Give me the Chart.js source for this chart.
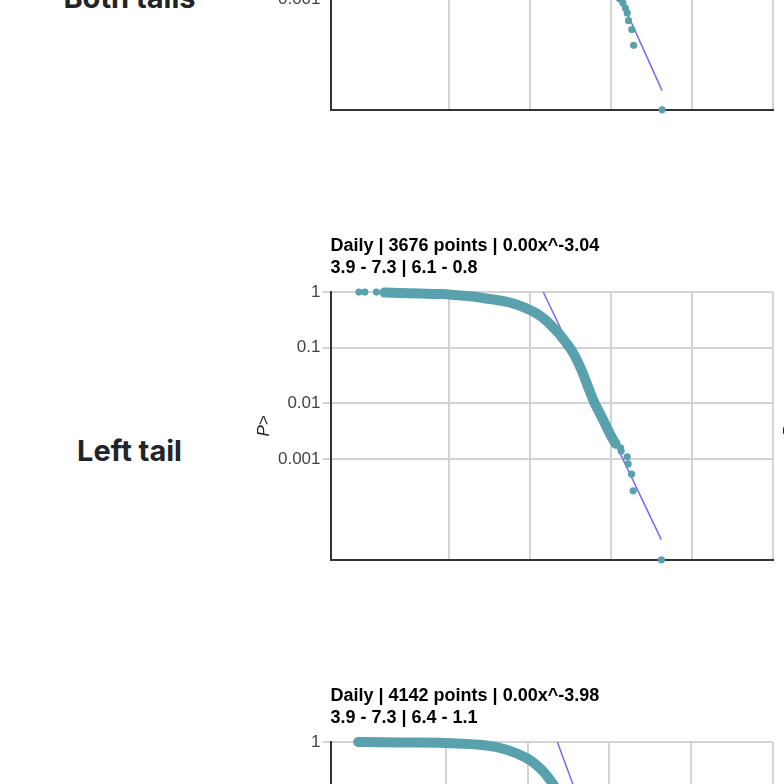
<!DOCTYPE html>
<html>
<head>
<meta charset="utf-8">
<title>Tail distributions</title>
<script src="https://cdn.jsdelivr.net/npm/chart.js@4.4.1/dist/chart.umd.min.js"></script>
<style>
    html, body { margin: 0; padding: 0; background: #fff; }
    body { width: 784px; height: 784px; overflow: hidden; }
    #page { position: relative; top: -225px; }
    .tail-row { position: relative; height: 450px; }
    .tail-label {
        position: absolute; left: 0; top: 0; width: 259px; height: 450px;
        display: flex; align-items: center; justify-content: center;
        font-family: Inter, "Noto Sans", sans-serif; font-weight: 700; font-size: 29px;
        color: #212529;
    }
    #both-label { top: -3px; }
    .tail-row canvas { position: absolute; top: 5px; }
    .tail-row canvas.main { left: 240px; }
    .tail-row canvas.side { left: 766px; }
</style>
</head>
<body>
<div id="page">
    <div class="tail-row">
        <div class="tail-label" id="both-label">Both tails</div>
        <canvas class="main" id="both-chart" width="544" height="342"></canvas>
        <canvas class="side" id="both-chart-2" width="544" height="342"></canvas>
    </div>
    <div class="tail-row">
        <div class="tail-label">Left tail</div>
        <canvas class="main" id="left-chart" width="544" height="342"></canvas>
        <canvas class="side" id="left-chart-2" width="544" height="342"></canvas>
    </div>
    <div class="tail-row">
        <div class="tail-label">Right tail</div>
        <canvas class="main" id="right-chart" width="544" height="342"></canvas>
        <canvas class="side" id="right-chart-2" width="544" height="342"></canvas>
    </div>
</div>

<script>
// --- axes (shared) ---
const yTicks = [1, 0.1, 0.01, 0.001];
const yTickLabels = ['1', '0.1', '0.01', '0.001'];
const xGrid = [0.001, 0.01, 0.1, 1, 10];
const xMax = 10;

// --- Both tails (only its lower end is on screen) ---
const bothXMin = 0.0000338;
const bothYMin = 0.0000076;
const bothBandX = [0.1, 0.116, 0.131];
const bothBandP = [0.0021, 0.0015, 0.00105];
const bothDotX = [0.1406, 0.151, 0.159, 0.165, 0.1815, 0.191, 0.43];
const bothDotP = [0.00084, 0.00067, 0.00054, 0.000385, 0.00026, 0.00013, 0.0000076];
const bothFitX = [0.0175, 0.43];
const bothFitP = [1, 0.0000177];

// --- Left tail ---
const leftTitle = ['Daily | 3676 points | 0.00x^-3.04', '3.9 - 7.3 | 6.1 - 0.8'];
const leftXMin = 0.0000338;
const leftYMin = 0.0000156;
const leftDotX = [0.000076, 0.00009, 0.000125, 0.1318, 0.1339, 0.1589, 0.1634, 0.180, 0.1884, 0.4217];
const leftDotP = [1, 0.9997, 0.9995, 0.0016, 0.0014, 0.0011, 0.00082, 0.00054, 0.00027, 0.0000156];
const leftBandX = [0.000157, 0.000243, 0.00043, 0.000757, 0.00122, 0.00195, 0.00313, 0.00504, 0.00805,
    0.01023, 0.01294, 0.0158, 0.01888, 0.0224, 0.0263, 0.0334, 0.0423, 0.0511, 0.0617, 0.0746, 0.0861, 0.0991, 0.1143];
const leftBandP = [0.98, 0.96, 0.94, 0.92, 0.88, 0.83, 0.75, 0.67, 0.545,
    0.466, 0.386, 0.308, 0.238, 0.184, 0.137, 0.0848, 0.0427, 0.0214, 0.0107, 0.0062, 0.0041, 0.0027, 0.0019];
const leftFitX = [0.01452, 0.42];
const leftFitP = [1, 0.000036];

// --- Right tail (only its top is on screen) ---
const rightTitle = ['Daily | 4142 points | 0.00x^-3.98', '3.9 - 7.3 | 6.4 - 1.1'];
const rightXMin = 0.000038;
const rightYMin = 0.0000156;
const rightBandX = [0.000083, 0.00027, 0.00099, 0.00313, 0.0055, 0.0097, 0.0141, 0.0187, 0.0234];
const rightBandP = [1, 0.98, 0.96, 0.87, 0.73, 0.516, 0.341, 0.21, 0.128];
const rightFitX = [0.023, 0.2];
const rightFitP = [1, 0.00018];

const TEAL = '#58a1ad';
const FIT_COLOR = '#7b68ee';
const GRID = '#d3d3d3';
const AXIS = '#333333';
const FONT = '"Liberation Sans", Arial, sans-serif';

const pts = (xs, ys) => xs.map((x, i) => ({ x: x, y: ys[i] }));

function tailDatasets(dotX, dotP, bandX, bandP, fitX, fitP) {
    return [
        { data: pts(dotX, dotP), backgroundColor: TEAL, pointRadius: 3.6, pointBorderWidth: 0, showLine: false, order: 0, clip: false },
        { data: pts(bandX, bandP), showLine: true, borderColor: TEAL, borderWidth: 10, borderCapStyle: 'round', borderJoinStyle: 'round',
          pointRadius: 0, tension: 0.4, order: 1, clip: false },
        { data: pts(fitX, fitP), showLine: true, borderColor: FIT_COLOR, borderWidth: 1.5, pointRadius: 0, order: 2 }
    ];
}

function buildTailChart(canvasId, title, xMin, yMin, datasets) {
    const canvas = document.getElementById(canvasId);
    if (!canvas) { console.warn('canvas not found:', canvasId); return null; }
    try {
        return new Chart(canvas.getContext('2d'), {
            type: 'scatter',
            data: { datasets: datasets },
            options: {
                responsive: false,
                animation: false,
                events: [],
                layout: { padding: { left: 10.5, right: 11.5, top: 0, bottom: 0 } },
                plugins: {
                    legend: { display: false },
                    tooltip: { enabled: false },
                    title: {
                        display: true, text: title, align: 'start', fullSize: false, color: '#000',
                        font: { family: FONT, size: 18, weight: 'bold', lineHeight: 1.24 },
                        padding: { top: 4.85, bottom: 12.55 }
                    }
                },
                scales: {
                    x: {
                        type: 'logarithmic', min: xMin, max: xMax,
                        afterBuildTicks: s => { s.ticks = [xMin].concat(xGrid).map(v => ({ value: v })); },
                        afterFit: s => { s.height = 12; },
                        ticks: { display: false },
                        grid: { color: GRID, lineWidth: 2, drawTicks: false },
                        border: { color: AXIS, width: 2 }
                    },
                    y: {
                        type: 'logarithmic', min: yMin, max: 1,
                        afterBuildTicks: s => { s.ticks = [yMin].concat(yTicks.slice().reverse()).map(v => ({ value: v })); },
                        afterFit: s => { s.width = 80; },
                        ticks: {
                            callback: v => { const i = yTicks.indexOf(v); return i < 0 ? null : yTickLabels[i]; },
                            color: '#444', font: { family: FONT, size: 17 }, padding: 2
                        },
                        grid: {
                            color: GRID, lineWidth: 2, tickLength: 8,
                            tickColor: c => (c.tick && c.tick.value === yMin) ? 'rgba(0,0,0,0)' : GRID
                        },
                        border: { color: AXIS, width: 2 },
                        title: { display: true, text: 'P>', color: '#222', font: { family: FONT, size: 17, style: 'italic' }, padding: { top: 4, bottom: 4 } }
                    }
                }
            }
        });
    } catch (err) {
        console.error('Error drawing ' + canvasId + ':', err);
        return null;
    }
}

buildTailChart('both-chart', ['', ''], bothXMin, bothYMin, tailDatasets(bothDotX, bothDotP, bothBandX, bothBandP, bothFitX, bothFitP));
buildTailChart('left-chart', leftTitle, leftXMin, leftYMin, tailDatasets(leftDotX, leftDotP, leftBandX, leftBandP, leftFitX, leftFitP));
buildTailChart('right-chart', rightTitle, rightXMin, rightYMin, tailDatasets([], [], rightBandX, rightBandP, rightFitX, rightFitP));

// second column starts just past the window edge; only its axis title peeks in
buildTailChart('both-chart-2', ['', ''], leftXMin, leftYMin, []);
buildTailChart('left-chart-2', ['', ''], leftXMin, leftYMin, []);
buildTailChart('right-chart-2', ['', ''], leftXMin, leftYMin, []);
</script>
</body>
</html>
